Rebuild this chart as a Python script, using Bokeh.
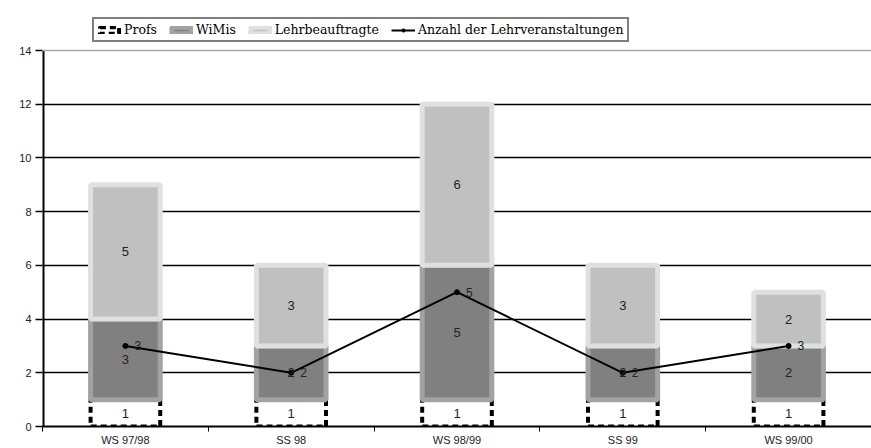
from bokeh.plotting import figure
from bokeh.models import (ColumnDataSource, Legend, LegendItem, FixedTicker, Range1d, Span,
                          CustomJSTickFormatter)
from bokeh.embed import file_html
from bokeh.resources import INLINE
from bokeh.core.properties import value

categories = ["WS 97/98", "SS 98", "WS 98/99", "SS 99", "WS 99/00"]
profs = [1, 1, 1, 1, 1]
wimis = [3, 2, 5, 2, 2]
lehrbeauftragte = [5, 3, 6, 3, 2]
anzahl = [3, 2, 5, 2, 3]
y_ticks = [0, 2, 4, 6, 8, 10, 12, 14]

xs = [i + 0.5 for i in range(len(categories))]
p_top = list(profs)
w_bot = p_top
w_top = [a + b for a, b in zip(w_bot, wimis)]
l_bot = w_top
l_top = [a + b for a, b in zip(l_bot, lehrbeauftragte)]

src = ColumnDataSource(dict(
    x=xs, profs=profs, wimis=wimis, lehr=lehrbeauftragte, anzahl=anzahl,
    p_bot=[0] * len(xs), p_top=p_top, w_bot=w_bot, w_top=w_top, l_bot=l_bot, l_top=l_top,
    p_mid=[(a + b) / 2 for a, b in zip([0] * len(xs), p_top)],
    w_mid=[(a + b) / 2 for a, b in zip(w_bot, w_top)],
    l_mid=[(a + b) / 2 for a, b in zip(l_bot, l_top)],
    p_lab=[str(v) for v in profs], w_lab=[str(v) for v in wimis],
    l_lab=[str(v) for v in lehrbeauftragte], a_lab=[str(v) for v in anzahl],
))

W, H = 871, 448
B_LEFT, B_TOP, B_BOTTOM = 42, 10, 22
LEGEND_ROOM = 40          # pixels above the 14-line reserved for the legend
frame_h = H - B_TOP - B_BOTTOM
y_end = y_ticks[-1] * frame_h / (frame_h - LEGEND_ROOM)

p = figure(width=W, height=H, x_range=Range1d(0, len(categories)), y_range=Range1d(0, y_end),
           output_backend="svg", toolbar_location=None,
           min_border_left=B_LEFT, min_border_right=0, min_border_top=B_TOP,
           min_border_bottom=B_BOTTOM)
p.outline_line_color = None
p.background_fill_color = "white"
p.border_fill_color = "white"

# grid
p.xgrid.visible = False
p.ygrid.ticker = FixedTicker(ticks=y_ticks[1:-1])
p.ygrid.grid_line_color = "black"
p.ygrid.grid_line_width = 1.6
p.add_layout(Span(location=y_ticks[-1], dimension="width", line_color="#a8a8a8", line_width=1.5))

bw = 0.42
r_p = p.vbar(x="x", bottom="p_bot", top="p_top", width=bw, source=src, fill_color="white",
             line_color="black", line_width=4, line_dash="6 4")
r_w = p.vbar(x="x", bottom="w_bot", top="w_top", width=bw, source=src, fill_color="#808080",
             line_color="#a2a2a2", line_width=5)
r_l = p.vbar(x="x", bottom="l_bot", top="l_top", width=bw, source=src, fill_color="#c0c0c0",
             line_color="#e0e0e0", line_width=5)

r_line = p.line(x="x", y="anzahl", source=src, line_color="black", line_width=2)
r_pt = p.scatter(x="x", y="anzahl", source=src, size=5, color="black")

tf = value("Liberation Sans")
for col, ycol in (("p_lab", "p_mid"), ("w_lab", "w_mid"), ("l_lab", "l_mid")):
    p.text(x="x", y=ycol, text=col, source=src, text_align="center", text_baseline="middle",
           text_font=tf, text_font_size="13px", text_color="#222222")
p.text(x="x", y="anzahl", text="a_lab", source=src, x_offset=9, text_align="left",
       text_baseline="middle", text_font=tf, text_font_size="12px", text_color="#222222")

# y axis: draw its line only from 0 to 14
p.yaxis.ticker = FixedTicker(ticks=y_ticks)
p.yaxis.axis_line_color = None
p.segment(x0=[0], y0=[y_ticks[0]], x1=[0], y1=[y_ticks[-1]], line_color="black", line_width=4)
p.yaxis.major_tick_out = 7
p.yaxis.major_tick_in = 0
p.yaxis.major_tick_line_width = 1.5
p.yaxis.minor_tick_line_color = None
p.yaxis.major_label_text_font = "Liberation Sans"
p.yaxis.major_label_text_font_size = "11px"
p.yaxis.major_label_text_color = "#222222"
p.yaxis.major_label_standoff = 4

# x axis
p.xaxis.ticker = FixedTicker(ticks=xs, minor_ticks=list(range(len(categories) + 1)))
p.xaxis.formatter = CustomJSTickFormatter(args=dict(labels=categories),
                                          code="return labels[Math.floor(tick)];")
p.xaxis.axis_line_width = 2
p.xaxis.axis_line_color = "black"
p.xaxis.major_tick_out = 0
p.xaxis.major_tick_in = 0
p.xaxis.minor_tick_out = 5
p.xaxis.minor_tick_in = 0
p.xaxis.minor_tick_line_color = "black"
p.xaxis.major_label_text_font = "Liberation Sans"
p.xaxis.major_label_text_font_size = "11px"
p.xaxis.major_label_text_color = "#222222"
p.xaxis.major_label_standoff = 2

legend = Legend(items=[
    LegendItem(label="Profs", renderers=[r_p]),
    LegendItem(label="WiMis", renderers=[r_w]),
    LegendItem(label="Lehrbeauftragte", renderers=[r_l]),
    LegendItem(label="Anzahl der Lehrveranstaltungen", renderers=[r_line, r_pt]),
], orientation="horizontal", location=(50, frame_h - 32))
legend.border_line_color = "black"
legend.border_line_width = 2
legend.background_fill_color = "white"
legend.background_fill_alpha = 1
legend.label_text_font = "DejaVu Serif"
legend.label_text_font_size = "12.5px"
legend.label_text_color = "black"
legend.glyph_width = 24
legend.glyph_height = 8
legend.spacing = 12
legend.padding = 3
legend.margin = 0
legend.label_standoff = 3
legend.label_height = 12
p.add_layout(legend, "center")

open("out.html", "w").write(file_html(p, INLINE))
